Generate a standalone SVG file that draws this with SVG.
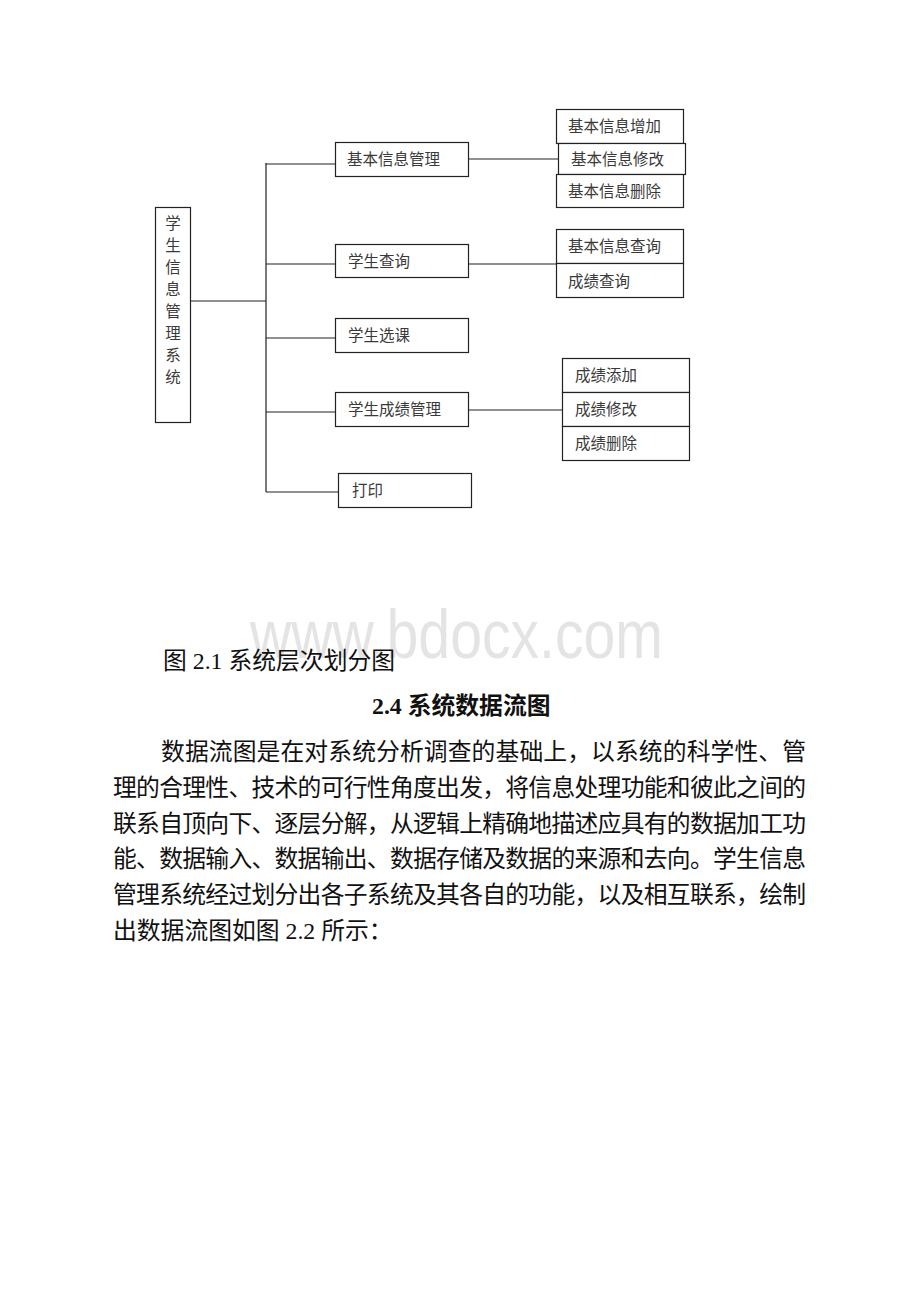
<svg xmlns="http://www.w3.org/2000/svg" width="920" height="1302" viewBox="0 0 920 1302">
<style>
.box{fill:#fff;stroke:#222;stroke-width:1.2}
.ln{stroke:#222;stroke-width:1.2;fill:none}
.lb{font-family:"Noto Sans CJK SC","Noto Sans",sans-serif;font-size:15.5px;fill:#3a3a3a}
.body{font-family:"Liberation Serif","Noto Sans CJK SC",serif;font-size:23.8px;fill:#111}
.wm{font-family:"Liberation Sans",Arial,sans-serif;font-size:68px;fill:#e4e4e4}
</style>
<rect width="920" height="1302" fill="#fff"/>
<g id="connectors">
<path class="ln" d="M191 301H266M266 163V492M266 164H335M266 264H335M266 338H335M266 412H335M266 492H338"/>
<path class="ln" d="M469 159H558M469 264H556M469 410H562"/>
</g>
<g id="root"><rect class="box" x="155.5" y="207.5" width="35" height="215"/>
<text class="lb" text-anchor="middle">
<tspan x="173" y="229">学</tspan><tspan x="173" y="251">生</tspan><tspan x="173" y="273">信</tspan><tspan x="173" y="295">息</tspan><tspan x="173" y="317">管</tspan><tspan x="173" y="339">理</tspan><tspan x="173" y="361">系</tspan><tspan x="173" y="383">统</tspan></text></g>
<g id="n1"><rect class="box" x="335.5" y="142.5" width="133" height="34"/><text class="lb" x="347" y="165">基本信息管理</text></g>
<g id="n2"><rect class="box" x="335.5" y="244.5" width="133" height="33"/><text class="lb" x="348" y="267">学生查询</text></g>
<g id="n3"><rect class="box" x="335.5" y="318.5" width="133" height="34"/><text class="lb" x="348" y="341">学生选课</text></g>
<g id="n4"><rect class="box" x="335.5" y="392.5" width="133" height="34"/><text class="lb" x="348" y="415">学生成绩管理</text></g>
<g id="n5"><rect class="box" x="338.5" y="473.5" width="133" height="34"/><text class="lb" x="352" y="496">打印</text></g>
<g id="c1"><rect class="box" x="556.5" y="109.5" width="127" height="34"/><text class="lb" x="568" y="132">基本信息增加</text></g>
<g id="c2"><rect class="box" x="558.5" y="143.5" width="127" height="31"/><text class="lb" x="571" y="165">基本信息修改</text></g>
<g id="c3"><rect class="box" x="556.5" y="174.5" width="127" height="33"/><text class="lb" x="568" y="197">基本信息删除</text></g>
<g id="c4"><rect class="box" x="556.5" y="229.5" width="127" height="34"/><text class="lb" x="568" y="252">基本信息查询</text></g>
<g id="c5"><rect class="box" x="556.5" y="263.5" width="127" height="34"/><text class="lb" x="568" y="287">成绩查询</text></g>
<g id="c6"><rect class="box" x="562.5" y="358.5" width="127" height="34"/><text class="lb" x="575" y="381">成绩添加</text></g>
<g id="c7"><rect class="box" x="562.5" y="392.5" width="127" height="34"/><text class="lb" x="575" y="415">成绩修改</text></g>
<g id="c8"><rect class="box" x="562.5" y="426.5" width="127" height="34"/><text class="lb" x="575" y="449">成绩删除</text></g>
<text class="wm" x="250" y="658" textLength="413" lengthAdjust="spacingAndGlyphs">www.bdocx.com</text>
<text class="body" x="163" y="669">图 2.1 系统层次划分图</text>
<text class="body" x="372" y="714" font-weight="bold">2.4 系统数据流图</text>
<text class="body" x="161" y="760" textLength="645" lengthAdjust="spacing">数据流图是在对系统分析调查的基础上，以系统的科学性、管</text>
<text class="body" x="113" y="796" textLength="693" lengthAdjust="spacing">理的合理性、技术的可行性角度出发，将信息处理功能和彼此之间的</text>
<text class="body" x="113" y="832" textLength="693" lengthAdjust="spacing">联系自顶向下、逐层分解，从逻辑上精确地描述应具有的数据加工功</text>
<text class="body" x="113" y="867" textLength="693" lengthAdjust="spacing">能、数据输入、数据输出、数据存储及数据的来源和去向。学生信息</text>
<text class="body" x="113" y="903" textLength="693" lengthAdjust="spacing">管理系统经过划分出各子系统及其各自的功能，以及相互联系，绘制</text>
<text class="body" x="113" y="939">出数据流图如图 2.2 所示：</text>
</svg>
